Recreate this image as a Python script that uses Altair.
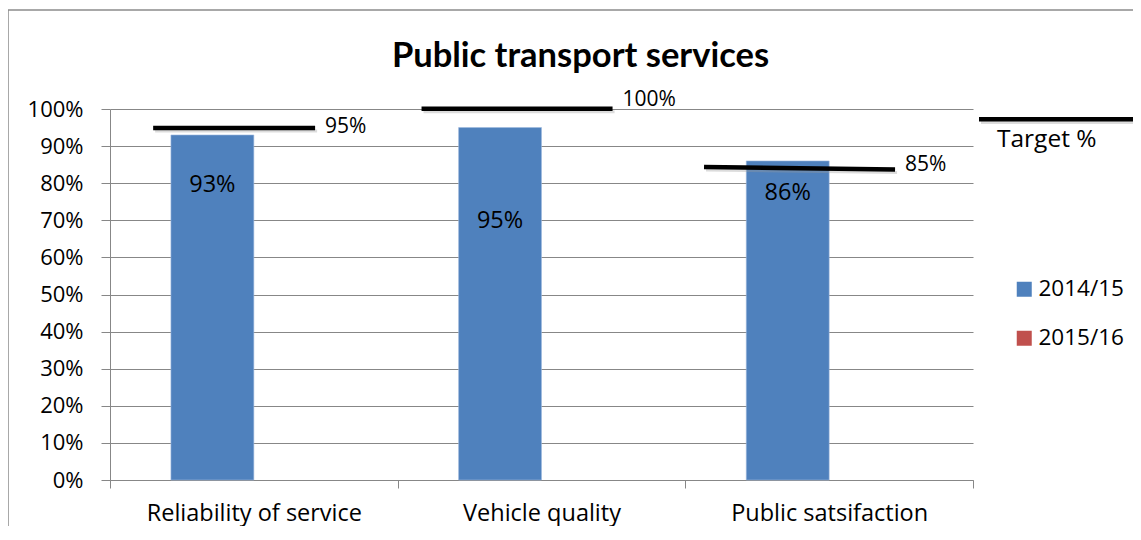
import altair as alt
import pandas as pd

# ---------------- data ----------------
categories = ["Reliability of service", "Vehicle quality", "Public satsifaction"]
series = ["2014/15", "2015/16"]
values_2014_15 = [0.93, 0.95, 0.86]
values_2015_16 = [None, None, None]          # no bars drawn for 2015/16
targets = [0.95, 1.00, 0.85]
y_ticks = [0.0, 0.1, 0.2, 0.3, 0.4, 0.5, 0.6, 0.7, 0.8, 0.9, 1.0]
# heights at which the hand-drawn target lines sit (left end, right end)
target_line_left = [0.949, 1.001, 0.844]
target_line_right = [0.949, 1.001, 0.837]
target_label_y = [0.952, 1.025, 0.848]
bar_label_y = [0.794, 0.697, 0.773]
# horizontal extent of each target line, as fractions of its category band
target_span = [(0.150, 0.713), (0.083, 0.747), (0.065, 0.729)]

FONT = "Open Sans"
TITLE_FONT = "Lato"
BLUE, RED = "#4F81BD", "#C0504D"
GRID = "#878787"

rows = []
for i, c in enumerate(categories):
    rows.append({"category": c, "series": series[0], "value": values_2014_15[i], "label_y": bar_label_y[i]})
    rows.append({"category": c, "series": series[1], "value": values_2015_16[i], "label_y": None})
bars_df = pd.DataFrame(rows)

target_df = pd.DataFrame({
    "category": categories,
    "target": targets,
    "y_left": target_line_left,
    "y_right": target_line_right,
    "label_y": target_label_y,
})

x_scale = alt.Scale(domain=categories, paddingInner=0, paddingOuter=0)
y_scale = alt.Scale(domain=[0, 1], nice=False)

x_axis = alt.Axis(title=None, labelAngle=0, labelFont=FONT, labelFontSize=23.5,
                  labelColor="black", labelLimit=0, domainColor=GRID, tickColor=GRID,
                  tickSize=8, tickBand="extent", labelPadding=13, grid=False)
y_axis = alt.Axis(title=None, values=y_ticks, format=".0%",
                  labelFont=FONT, labelFontSize=22, labelColor="black",
                  labelOverlap=False, labelFlush=False, tickCount=11,
                  grid=True, gridColor=GRID, gridWidth=1.2, domainColor=GRID,
                  tickColor=GRID, tickSize=9, labelPadding=18)


def X(field, **kw):
    return alt.X(field, sort=categories, scale=x_scale, axis=x_axis, **kw)


def Y(field):
    return alt.Y(field, scale=y_scale, axis=y_axis)


base = alt.Chart(bars_df)

bars = base.mark_bar(stroke="#9DB9DE", strokeWidth=0.6).encode(
    x=X("category:N"),
    xOffset=alt.XOffset("series:N", scale=alt.Scale(domain=series, paddingInner=0, paddingOuter=0.735)),
    y=Y("value:Q"),
    color=alt.Color(
        "series:N",
        scale=alt.Scale(domain=series, range=[BLUE, RED]),
        legend=alt.Legend(title=None, orient="none", legendX=903, legendY=169,
                          symbolType="square", symbolSize=225, symbolStrokeWidth=0,
                          labelFont=FONT, labelFontSize=22.5, labelColor="black",
                          rowPadding=26, labelOffset=3),
    ),
)

bar_labels = base.transform_filter(alt.datum.series == series[0]).mark_text(
    font=FONT, fontSize=23.5, color="black", baseline="middle", align="center"
).encode(
    x=X("category:N"),
    xOffset=alt.XOffset("series:N"),
    y=Y("label_y:Q"),
    text=alt.Text("value:Q", format=".0%"),
)

layers = [bars, bar_labels]

tbase = alt.Chart(target_df)
for c, (s, e) in zip(categories, target_span):
    sub = tbase.transform_filter(alt.datum.category == c)
    shadow = sub.mark_rule(color="#9a9a9a", strokeWidth=3, opacity=0.35,
                           yOffset=3, y2Offset=3, xOffset=2, x2Offset=2).encode(
        x=X("category:N", bandPosition=s),
        x2=alt.X2("category", bandPosition=e),
        y=Y("y_left:Q"),
        y2=alt.Y2("y_right"),
    )
    line = sub.mark_rule(color="black", strokeWidth=4.5).encode(
        x=X("category:N", bandPosition=s),
        x2=alt.X2("category", bandPosition=e),
        y=Y("y_left:Q"),
        y2=alt.Y2("y_right"),
    )
    label = sub.mark_text(font=FONT, fontSize=21, color="black", align="left",
                          baseline="middle", dx=10).encode(
        x=X("category:N", bandPosition=e),
        y=Y("label_y:Q"),
        text=alt.Text("target:Q", format=".0%"),
    )
    layers += [shadow, line, label]

one = alt.Chart(pd.DataFrame({"k": [0]}))

# "Target %" legend entry (line above its text, as in the original)
legend_shadow = one.mark_rule(color="#9a9a9a", strokeWidth=3, opacity=0.35).encode(
    x=alt.value(871), x2=alt.value(1025), y=alt.value(13.5))
legend_line = one.mark_rule(color="black", strokeWidth=4.5).encode(
    x=alt.value(869), x2=alt.value(1023), y=alt.value(10.3))
legend_text = one.mark_text(text="Target %", font=FONT, fontSize=24.5, color="black",
                            align="left", baseline="middle").encode(
    x=alt.value(887), y=alt.value(31))

title = one.mark_text(text="Public transport services", font=TITLE_FONT, fontSize=34.5,
                      fontWeight="bold", color="black", align="center",
                      baseline="alphabetic").encode(
    x=alt.value(470.5), y=alt.value(-42))

frame = one.mark_rect(filled=False, stroke="#8c8c8c", strokeWidth=1.5).encode(
    x=alt.value(-102), x2=alt.value(1100), y=alt.value(-99), y2=alt.value(500))

layers += [legend_shadow, legend_line, legend_text, title, frame]

chart = alt.layer(*layers).properties(
    width=863, height=371,
    autosize=alt.AutoSizeParams(type="none"),
    padding={"left": 102, "top": 101, "right": 160, "bottom": 46},
    background="white",
).configure_view(strokeWidth=0)

chart.save("out.html", embed_options={"renderer": "svg", "actions": False})
